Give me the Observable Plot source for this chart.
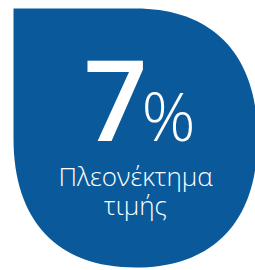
<!DOCTYPE html>
<html>
<head>
<meta charset="utf-8">
<script src="https://cdn.jsdelivr.net/npm/d3@7"></script>
<script src="https://cdn.jsdelivr.net/npm/@observablehq/plot@0.6"></script>
<style>
  html, body { margin: 0; padding: 0; background: #ffffff; }
  #chart svg { display: block; }
</style>
</head>
<body>
<div id="chart"></div>
<script>
// ---- data ----
const headlineValue = [7];
const headlineUnit = ["%"];
const labelLines = ["Πλεονέκτημα", "τιμής"];

// ---- styling ----
const W = 255, H = 270;
const BLUE = "#0a5a9b";
const FONT = "'Open Sans', 'Noto Sans', sans-serif";

// Drop shape (square top-left corner, rounded other corners) as a custom symbol
const drop = {
  draw(context) {
    const L = -122, R = 122, T = -130, B = 129, k = 0.64;
    context.moveTo(L, T);
    context.lineTo(0, T);
    context.bezierCurveTo(k * R, T, R, k * T, R, 0);
    context.bezierCurveTo(R, k * B, k * R, B, 0, B);
    context.bezierCurveTo(k * L, B, L, k * B, L, 0);
    context.closePath();
  }
};

const shapeCenter = [{x: 135, y: 138}];
const valueRows = headlineValue.map((v, i) => ({v, unit: headlineUnit[i]}));
const labelRows = labelLines.map((t, i) => ({t, i}));

const chart = Plot.plot({
  width: W,
  height: H,
  margin: 0,
  x: {domain: [0, W], range: [0, W], axis: null},
  y: {domain: [0, H], range: [0, H], axis: null},
  style: {background: "#ffffff", overflow: "hidden"},
  marks: [
    Plot.dot(shapeCenter, {x: "x", y: "y", symbol: drop, r: 1, fill: BLUE, stroke: "none"}),
    Plot.text(valueRows, {
      x: () => 83, y: () => 140, text: d => String(d.v),
      textAnchor: "start", lineAnchor: "bottom",
      fill: "#ffffff", fontSize: 112, fontWeight: 600, fontFamily: FONT
    }),
    Plot.text(valueRows, {
      x: () => 141, y: () => 140, text: d => d.unit,
      textAnchor: "start", lineAnchor: "bottom",
      fill: "#ffffff", fontSize: 67, fontWeight: 300, fontFamily: FONT
    }),
    Plot.text(labelRows, {
      x: () => 135, y: d => 185 + d.i * 29, text: "t",
      textAnchor: "middle", lineAnchor: "bottom",
      fill: "#ffffff", fontSize: 26, fontWeight: 300, fontFamily: FONT
    })
  ]
});
document.getElementById("chart").appendChild(chart);
</script>
</body>
</html>
